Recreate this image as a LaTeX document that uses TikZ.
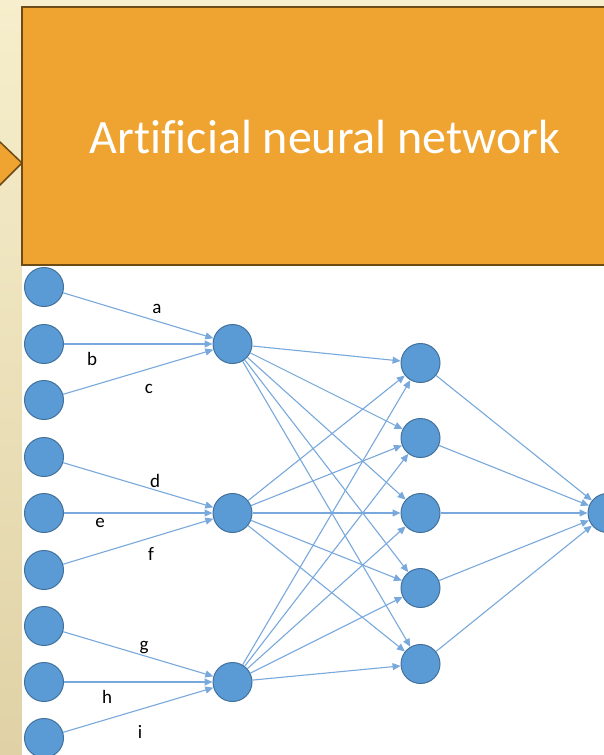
\documentclass[tikz,border=0pt]{standalone}
\usepackage{fontspec}
\setmainfont[Ligatures={NoCommon}]{Carlito}
\usetikzlibrary{arrows.meta}
\definecolor{cream1}{HTML}{F6EECC}
\definecolor{cream2}{HTML}{E0D2A6}
\definecolor{banner}{HTML}{EFA330}
\definecolor{bannerline}{HTML}{6E4A14}
\definecolor{nodefill}{HTML}{5B9BD5}
\definecolor{nodeline}{HTML}{41719C}
\definecolor{edgecol}{HTML}{79A9DC}
\tikzset{
  neuron/.style={circle, fill=nodefill, draw=nodeline, line width=1pt, minimum size=39pt, inner sep=0pt},
  conn/.style={draw=edgecol, line width=1.1pt, -{Triangle[length=8pt,width=7pt]}},
  wlabel/.style={anchor=base, font=\fontsize{19}{19}\selectfont, text=black, inner sep=0pt}
}
\begin{document}
\begin{tikzpicture}[x=1pt,y=-1pt]
\clip (0,0) rectangle (604,755);
% background
\shade[top color=cream1, bottom color=cream2] (0,0) rectangle (604,755);
\fill[white] (22,265) rectangle (610,760);
% arrow shape on the left
\filldraw[fill=banner, draw=bannerline, line width=1.5pt] (-20,142) -- (0,142) -- (22,163) -- (0,185) -- (-20,185) -- cycle;
% banner
\filldraw[fill=banner, draw=bannerline, line width=2pt] (22,7) rectangle (640,265);
\node[anchor=base, text=white, font=\fontsize{48}{48}\selectfont, inner sep=0pt] (title) at (325,153) {Artificial neural network};
% input layer
\foreach \i/\y in {1/287,2/344,3/400,4/457,5/513,6/570,7/626,8/682,9/738}
  \node[neuron] (in\i) at (44,\y) {};
% hidden layer 1
\foreach \i/\y in {1/344,2/513,3/682}
  \node[neuron] (h\i) at (232.5,\y) {};
% hidden layer 2
\foreach \i/\y in {1/363,2/438,3/513,4/588,5/664}
  \node[neuron] (k\i) at (420.5,\y) {};
% output
\node[neuron] (out) at (607.5,513) {};
% connections
\foreach \a/\b in {1/1,2/1,3/1,4/2,5/2,6/2,7/3,8/3,9/3}
  \draw[conn] (in\a) -- (h\b);
\foreach \a in {1,2,3}
  \foreach \b in {1,...,5}
    \draw[conn] (h\a) -- (k\b);
\foreach \b in {1,...,5}
  \draw[conn] (k\b) -- (out);
% labels
\node[wlabel] (la) at (157,313) {a};
\node[wlabel] (lb) at (92,365) {b};
\node[wlabel] (lc) at (149,393) {c};
\node[wlabel] (ld) at (155,487) {d};
\node[wlabel] (le) at (100,527) {e};
\node[wlabel] (lf) at (151,560) {f};
\node[wlabel] (lg) at (144,650) {g};
\node[wlabel] (lh) at (107,703) {h};
\node[wlabel] (li) at (140,738) {i};
\end{tikzpicture}
\end{document}
